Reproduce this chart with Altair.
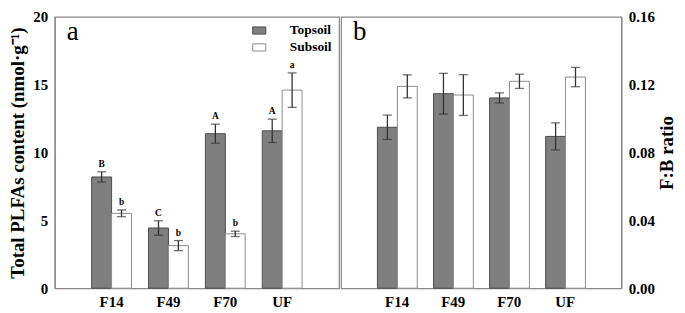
import altair as alt
import pandas as pd

sites = ["F14", "F49", "F70", "UF"]
layers = ["Topsoil", "Subsoil"]

plfa_top = [8.2, 4.44, 11.39, 11.6]
plfa_top_err = [0.38, 0.53, 0.70, 0.86]
plfa_sub = [5.52, 3.14, 4.01, 14.6]
plfa_sub_err = [0.25, 0.37, 0.20, 1.27]
plfa_letters_top = ["B", "C", "A", "A"]
plfa_letters_sub = ["b", "b", "b", "a"]

fb_top = [0.0949, 0.1147, 0.1122, 0.0895]
fb_top_err = [0.0072, 0.012, 0.003, 0.008]
fb_sub = [0.119, 0.1139, 0.122, 0.1245]
fb_sub_err = [0.0068, 0.012, 0.0042, 0.0057]


def make_df(top, top_err, sub, sub_err, lt=None, ls=None):
    rows = []
    for i, s in enumerate(sites):
        rows.append(dict(site=s, layer="Topsoil", mean=top[i], lo=top[i] - top_err[i],
                         hi=top[i] + top_err[i], letter=(lt[i] if lt else "")))
        rows.append(dict(site=s, layer="Subsoil", mean=sub[i], lo=sub[i] - sub_err[i],
                         hi=sub[i] + sub_err[i], letter=(ls[i] if ls else "")))
    return pd.DataFrame(rows)


df_a = make_df(plfa_top, plfa_top_err, plfa_sub, plfa_sub_err, plfa_letters_top, plfa_letters_sub)
df_b = make_df(fb_top, fb_top_err, fb_sub, fb_sub_err)

FONT = "Times New Roman, Liberation Serif, serif"
H = 273

xenc = alt.X("site:N", sort=sites, title=None,
             scale=alt.Scale(paddingInner=0.3, paddingOuter=0.65),
             axis=alt.Axis(labelAngle=0, labelPadding=6))
xoff = alt.XOffset("layer:N", sort=layers, scale=alt.Scale(paddingInner=0, paddingOuter=0))


def panel(df, yscale, yaxis, width, label, show_legend, letters):
    legend = None
    if show_legend:
        legend = alt.Legend(title=None, orient="none", legendX=199, legendY=7,
                            symbolType="M-1.1,-0.6H1.1V0.6H-1.1Z", symbolSize=144,
                            symbolStrokeColor="#555", symbolStrokeWidth=1,
                            labelFont=FONT, labelFontWeight="bold", labelFontSize=13.5,
                            labelAlign="left", labelOffset=24, rowPadding=2, padding=0)
    base = alt.Chart(df)
    bars = base.mark_bar(strokeWidth=1).encode(
        x=xenc, xOffset=xoff,
        y=alt.Y("mean:Q", scale=yscale, axis=yaxis),
        fill=alt.Fill("layer:N", sort=layers,
                      scale=alt.Scale(domain=layers, range=["#7f7f7f", "#ffffff"]),
                      legend=legend),
        stroke=alt.Stroke("layer:N", scale=alt.Scale(domain=layers, range=["#4d4d4d", "#8c8c8c"]),
                          legend=None),
    )
    rule = base.mark_rule(color="#333", strokeWidth=1.3).encode(
        x=xenc, xOffset=xoff, y="lo:Q", y2="hi:Q")
    cap_lo = base.mark_tick(color="#333", size=9, thickness=1.3).encode(
        x=xenc, xOffset=xoff, y="lo:Q")
    cap_hi = base.mark_tick(color="#333", size=9, thickness=1.3).encode(
        x=xenc, xOffset=xoff, y="hi:Q")
    lab = alt.Chart(pd.DataFrame({"t": [label]})).mark_text(
        font=FONT, fontSize=27, align="left", baseline="alphabetic", color="black"
    ).encode(x=alt.value(12), y=alt.value(23), text="t:N")
    layers_list = [bars, rule, cap_lo, cap_hi, lab]
    if letters:
        txt = base.mark_text(font=FONT, fontWeight="bold", fontSize=9.5, dy=-3,
                             baseline="bottom", color="black").encode(
            x=xenc, xOffset=xoff, y="hi:Q", text="letter:N")
        layers_list.append(txt)
    return alt.layer(*layers_list).properties(width=width, height=H)


pa = panel(
    df_a,
    alt.Scale(domain=[0, 20], nice=False),
    alt.Axis(values=[0, 5, 10, 15, 20], title="Total PLFAs content (nmol·g⁻¹)",
             titlePadding=5, labelPadding=7),
    286, "a", True, True)

pb = panel(
    df_b,
    alt.Scale(domain=[0, 0.16], nice=False),
    alt.Axis(orient="right", values=[0, 0.04, 0.08, 0.12, 0.16], format=".2f",
             title="F:B ratio", titleAngle=270, titleBaseline="top", titlePadding=3,
             labelPadding=7),
    282, "b", False, False)

chart = alt.hconcat(pa, pb, spacing=0).resolve_scale(
    fill="independent", stroke="independent", y="independent"
).properties(padding={"left": 0, "top": 0, "right": 0, "bottom": 0}).configure_view(
    stroke="#888", strokeWidth=1.2
).configure_axis(
    grid=False, ticks=False, domainColor="#888", domainWidth=1.2,
    labelFont=FONT, labelFontWeight="bold", labelFontSize=15, labelColor="black",
    titleFont=FONT, titleFontWeight="bold", titleFontSize=19, titleColor="black",
)

chart.save("out.html", embed_options={"renderer": "svg", "actions": False})
